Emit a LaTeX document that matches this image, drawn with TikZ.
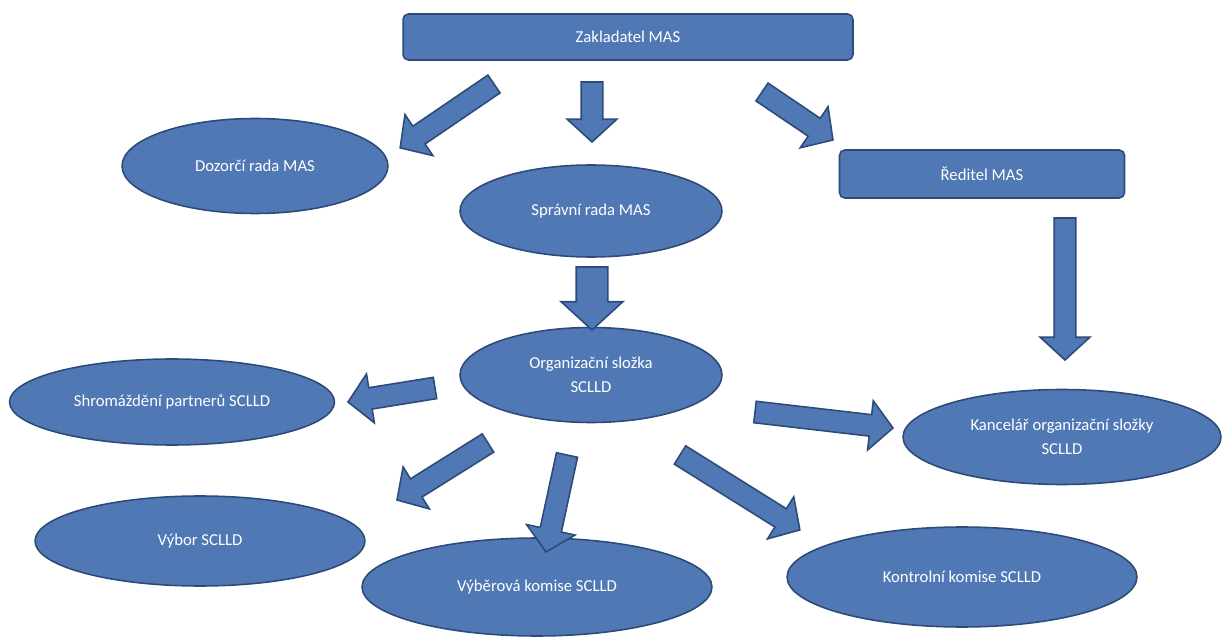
\documentclass[tikz,border=0pt]{standalone}
\usepackage{fontspec}
\setmainfont{Carlito}
\usetikzlibrary{shapes.geometric,shapes.arrows,calc}

\definecolor{masblue}{HTML}{4F78B4}
\definecolor{masedge}{HTML}{2D4B78}

\tikzset{
    orgbox/.style={rectangle, rounded corners=3pt, fill=masblue, draw=masedge,
        line width=0.9pt, text=white, inner sep=0pt,
        font=\fontsize{9.5}{13.5}\selectfont},
    orgoval/.style={ellipse, fill=masblue, draw=masedge, line width=0.9pt,
        text=white, align=center, inner sep=0pt,
        font=\fontsize{9.5}{13.5}\selectfont},
    blockarr/.style={single arrow, fill=masblue, draw=masedge, line width=0.9pt,
        inner sep=0pt, inner ysep=0.2cm, outer sep=0pt,
        single arrow head extend=0.28cm, single arrow tip angle=95},
    bigarr/.style={inner ysep=0.3cm, single arrow head extend=0.3cm},
}

% block arrow from tail coordinate to tip coordinate
\newcommand{\blockarrow}[3][]{%
    \path let \p1=($(#3)-(#2)$), \n1={veclen(\x1,\y1)}, \n2={atan2(\y1,\x1)} in
        node[blockarr, #1, anchor=tail, rotate=\n2, minimum height=\n1] at (#2) {};
}

\begin{document}
\begin{tikzpicture}[x=0.02cm, y=-0.02cm]
    \useasboundingbox (0,0) rectangle (1228,638);

    \node[orgbox, minimum width=9cm, minimum height=0.92cm] (zakladatel) at (628,37) {Zakladatel MAS};
    \node[orgoval, minimum width=5.32cm, minimum height=1.9cm] (dozorci) at (255,166) {Dozorčí rada MAS};
    \node[orgoval, minimum width=5.24cm, minimum height=1.84cm] (spravni) at (591,211) {Správní rada MAS};
    \node[orgbox, minimum width=5.7cm, minimum height=0.96cm] (reditel) at (982,174) {Ředitel MAS};
    \node[orgoval, minimum width=5.24cm, minimum height=1.9cm] (organizacni) at (591,375) {Organizační složka\\SCLLD};
    \node[orgoval, minimum width=6.5cm, minimum height=1.72cm] (shromazdeni) at (172,402) {Shromáždění partnerů SCLLD};
    \node[orgoval, minimum width=6.36cm, minimum height=1.9cm] (kancelar) at (1062,437) {Kancelář organizační složky\\SCLLD};
    \node[orgoval, minimum width=6.6cm, minimum height=1.8cm] (vybor) at (200,541) {Výbor SCLLD};
    \node[orgoval, minimum width=7cm, minimum height=1.96cm] (vyberova) at (537,587) {Výběrová komise SCLLD};
    \node[orgoval, minimum width=7cm, minimum height=2cm] (kontrolni) at (962,577) {Kontrolní komise SCLLD};

    % arrow ends
    \coordinate (zd1) at (494,84);   \coordinate (zd2) at (400,148);
    \coordinate (zs1) at (592,82);   \coordinate (zs2) at (592,142);
    \coordinate (zr1) at (762,92);   \coordinate (zr2) at (833,140);
    \coordinate (rk1) at (1065,218); \coordinate (rk2) at (1065,360);
    \coordinate (so1) at (592,267);  \coordinate (so2) at (592,330);
    \coordinate (osh1) at (435,388); \coordinate (osh2) at (348,402);
    \coordinate (ov1) at (488,443);  \coordinate (ov2) at (397,500);
    \coordinate (ovk1) at (567,455); \coordinate (ovk2) at (546,552);
    \coordinate (oko1) at (680,455); \coordinate (oko2) at (800,530);
    \coordinate (oka1) at (755,412); \coordinate (oka2) at (893,428);

    \blockarrow{zd1}{zd2}
    \blockarrow{zs1}{zs2}
    \blockarrow{zr1}{zr2}
    \blockarrow{rk1}{rk2}
    \blockarrow[bigarr]{so1}{so2}
    \blockarrow{osh1}{osh2}
    \blockarrow{ov1}{ov2}
    \blockarrow{ovk1}{ovk2}
    \blockarrow{oko1}{oko2}
    \blockarrow{oka1}{oka2}
\end{tikzpicture}
\end{document}
